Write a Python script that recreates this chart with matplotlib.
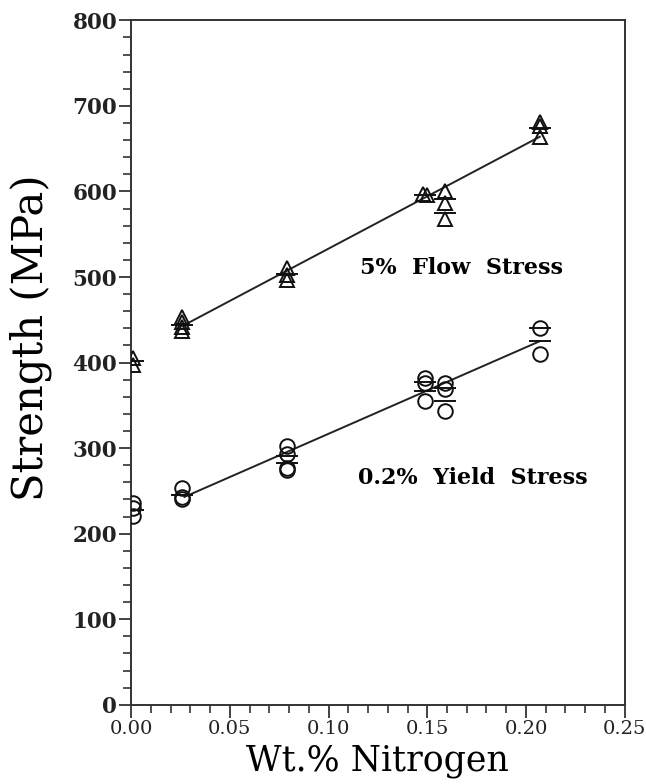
import matplotlib
matplotlib.use("Agg")
import matplotlib.pyplot as plt
from matplotlib.ticker import MultipleLocator

# ---- data ----
flow_x = [0.001, 0.001, 0.026, 0.026, 0.026, 0.026, 0.079, 0.079, 0.079,
          0.148, 0.150, 0.159, 0.159, 0.159, 0.207, 0.207, 0.207]
flow_y = [405, 397, 453, 447, 442, 437, 511, 502, 496,
          597, 596, 601, 586, 568, 681, 676, 664]
flow_mean_x = [0.001, 0.026, 0.079, 0.149, 0.159, 0.159, 0.207]
flow_mean_y = [402, 444, 503, 596, 591, 575, 674]

yield_x = [0.001, 0.001, 0.001, 0.026, 0.026, 0.026, 0.079, 0.079, 0.079, 0.079,
           0.149, 0.149, 0.149, 0.159, 0.159, 0.159, 0.207, 0.207]
yield_y = [236, 230, 221, 253, 243, 241, 302, 293, 277, 274,
           382, 376, 355, 376, 369, 343, 440, 410]
yield_mean_x = [0.001, 0.026, 0.079, 0.079, 0.149, 0.149, 0.159, 0.159, 0.207, 0.207]
yield_mean_y = [228, 245, 291, 283, 377, 367, 370, 355, 440, 425]

fit_x = [0.027, 0.207]
flow_fit = [444, 664]
yield_fit = [243, 425]

x_ticks = [0.00, 0.05, 0.10, 0.15, 0.20, 0.25]
y_ticks = [0, 100, 200, 300, 400, 500, 600, 700, 800]

# ---- figure ----
fig = plt.figure(figsize=(6.46, 7.84), dpi=100)
ax = fig.add_axes([0.203, 0.101, 0.764, 0.873])

serif = ["DejaVu Serif"]

ax.plot(fit_x, flow_fit, color="#222222", lw=1.4, zorder=2)
ax.plot(fit_x, yield_fit, color="#222222", lw=1.4, zorder=2)

ax.plot(flow_x, flow_y, linestyle="none", marker="^", markersize=10.5,
        markerfacecolor="none", markeredgecolor="#111111", markeredgewidth=1.4, zorder=3)
ax.plot(flow_mean_x, flow_mean_y, linestyle="none", marker="_", markersize=16,
        markeredgecolor="#111111", markeredgewidth=1.4, zorder=3)

ax.plot(yield_x, yield_y, linestyle="none", marker="o", markersize=10.5,
        markerfacecolor="none", markeredgecolor="#111111", markeredgewidth=1.4, zorder=3)
ax.plot(yield_mean_x, yield_mean_y, linestyle="none", marker="_", markersize=16,
        markeredgecolor="#111111", markeredgewidth=1.4, zorder=3)

ax.set_xlim(0, 0.25)
ax.set_ylim(0, 800)
ax.set_xticks(x_ticks)
ax.set_yticks(y_ticks)
ax.xaxis.set_minor_locator(MultipleLocator(0.01))
ax.yaxis.set_minor_locator(MultipleLocator(20))
ax.set_xticklabels([f"{v:.2f}" for v in x_ticks], family=serif, fontsize=14)
ax.set_yticklabels([str(v) for v in y_ticks], family=serif, fontsize=15.5, fontweight="bold")
ax.tick_params(axis="both", which="major", direction="out", length=9, width=1.2,
               colors="#222222", pad=1)
ax.tick_params(axis="x", which="major", pad=2)
ax.tick_params(axis="both", which="minor", direction="out", length=6, width=1.1,
               colors="#222222")
for s in ax.spines.values():
    s.set_linewidth(1.4)
    s.set_color("#333333")

ax.set_xlabel("Wt.% Nitrogen", family=serif, fontsize=25)
ax.xaxis.set_label_coords(0.5, -0.057, transform=ax.transAxes)
ax.xaxis.label.set_va("top")
ax.set_ylabel("Strength (MPa)", family=serif, fontsize=30)
ax.yaxis.set_label_coords(-0.204, 0.537, transform=ax.transAxes)
ax.yaxis.label.set_va("center")

ax.text(0.116, 510, "5%  Flow  Stress", family=serif, fontsize=16,
        fontweight="bold", va="center", ha="left")
ax.text(0.115, 265, "0.2%  Yield  Stress", family=serif, fontsize=16,
        fontweight="bold", va="center", ha="left")

fig.savefig("out.png", dpi=100)
